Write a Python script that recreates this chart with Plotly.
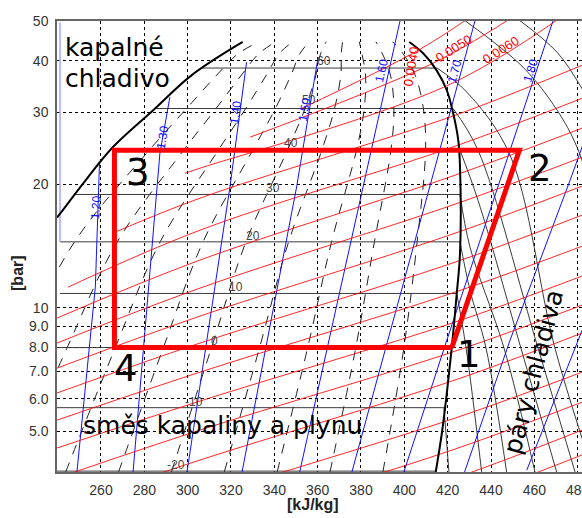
import math
import plotly.graph_objects as go

# ---------------- axes ----------------
H_RANGE = [239.7, 482.0]          # kJ/kg
P_RANGE = [3.98, 50.0]            # bar (log axis)
x_tick_vals = [260, 280, 300, 320, 340, 360, 380, 400, 420, 440, 460, 480]
y_tick_vals = [5, 6, 7, 8, 9, 10, 20, 30, 40, 50]
y_tick_text = ["5.0", "6.0", "7.0", "8.0", "9.0", "10", "20", "30", "40", "50"]

# ---------------- saturation curves ----------------
liq_h = [239.7, 241.4, 251.8, 264.9, 284.1, 301.9, 325.4]
liq_p = [16.6, 17.03, 20.1, 24.45, 30.3, 36.9, 44.45]
vap_h = [402.3, 408.8, 414.9, 419.6, 422.6, 424.9, 425.7, 425.7, 424.2, 421.9, 419.6, 417.3, 414.5]
vap_p = [44.45, 41.66, 37.9, 33.9, 29.7, 25.6, 22.05, 13.57, 10.84, 8.0, 6.19, 4.94, 3.98]

# ---------------- refrigeration cycle 1-2-3-4 ----------------
cyc_h = [421.9, 453.1, 266.2, 266.2, 421.9]
cyc_p = [8.0, 24.2, 24.2, 8.0, 8.0]
cyc_labels = ["1", "2", "3", "4"]
cyc_lab_h = [429.8, 462.6, 277.1, 271.5]
cyc_lab_p = [7.71, 21.83, 21.35, 7.11]

# ---------------- quality lines (dashed, two-phase) ----------------
q_p = [3.98, 8.0, 14.48, 24.2, 30.6, 36.9, 41.7, 44.5]
q_h01 = [194.9, 222.2, 247.8, 282.2, 299.5, 313.4, 323.5, 333.1]
q_h02 = [219.3, 244.4, 267.5, 298.1, 313.1, 324.8, 333.0, 340.8]
q_h03 = [243.7, 266.6, 287.3, 314.1, 326.8, 336.3, 342.4, 348.5]
q_h04 = [268.1, 288.8, 307.1, 330.0, 340.5, 347.7, 351.9, 356.2]
q_h05 = [292.5, 311.0, 326.9, 346.0, 354.2, 359.2, 361.4, 363.9]
q_h06 = [316.9, 333.2, 346.6, 361.9, 367.8, 370.7, 370.9, 371.5]
q_h07 = [341.3, 355.4, 366.4, 377.9, 381.5, 382.1, 380.4, 379.2]
q_h08 = [365.7, 377.6, 386.2, 393.8, 395.2, 393.6, 389.8, 386.9]
q_h09 = [390.1, 399.8, 405.9, 409.8, 408.8, 405.0, 399.3, 394.6]

# ---------------- isotherms ----------------
iso_t_labels = ["60", "50", "40", "30", "20", "10", "0", "-10", "-20"]
iso_t_p = [38.4, 30.6, 24.2, 18.89, 14.48, 10.84, 8.0, 5.71, 4.0]
iso_t_h_left = [306.6, 284.9, 266.2, 247.7, 241.1, 241.1, 239.7, 239.7, 239.7]
iso_t_h_right = [415.1, 422.5, 425.7, 425.7, 425.7, 424.3, 422.0, 418.3, 414.6]
iso_t_lab_h = [362.9, 356.0, 347.7, 339.4, 330.2, 322.3, 312.2, 302.9, 294.6]
iso_t_lab_p = [39.9, 32.05, 25.19, 19.57, 14.95, 11.23, 8.30, 5.89, 4.14]

# superheated parts of the isotherms
arc_h = [
    [418.3, 420.6],
    [424.2, 428.5, 435.7],
    [425.7, 430.3, 437.7, 447.2],
    [425.7, 430.3, 446.0, 460.3],
    [425.7, 434.0, 453.8, 470.3],
    [422.5, 434.0, 461.7, 478.8],
    [415.1, 428.9, 448.8, 469.5, 487.1],
    [427.1, 454.8, 470.5, 479.7, 490.3],
    [452.5, 470.5, 481.1, 490.3],
]
arc_p = [
    [5.71, 3.98],
    [10.84, 7.98, 3.98],
    [14.48, 11.04, 7.98, 3.98],
    [18.89, 14.06, 7.98, 3.98],
    [24.2, 18.29, 7.98, 3.98],
    [30.6, 24.22, 7.98, 3.98],
    [38.4, 33.52, 23.55, 7.98, 3.98],
    [50.5, 38.58, 30.31, 24.63, 16.35],
    [50.5, 41.96, 34.84, 28.64],
]

# ---------------- isentropes (blue) ----------------
s_h = [
    [248.9, 257.4, 259.3],
    [274.8, 287.2, 291.8],
    [299.7, 319.5, 327.2],
    [325.1, 350.3, 360.2],
    [351.7, 373.4, 398.0],
    [375.8, 398.0, 412.6, 432.6],
    [399.8, 419.6, 444.2, 468.6],
    [427.8, 448.8, 476.5, 485.7],
    [456.5, 482.0, 490.3],
]
s_p = [
    [3.98, 11.25, 22.4],
    [3.98, 23.82, 32.6],
    [3.98, 19.68, 39.7],
    [3.98, 19.71, 40.8],
    [3.98, 13.07, 50.0],
    [3.98, 10.74, 20.46, 50.0],
    [3.98, 8.34, 20.46, 50.0],
    [3.98, 8.34, 20.46, 27.9],
    [4.02, 8.83, 11.36],
]
s_labels = ["1.20", "1.30", "1.40", "1.50", "1.60", "1.70", "1.80"]
s_lab_h = [257.7, 288.6, 322.3, 354.2, 389.7, 423.4, 458.5]
s_lab_p = [17.59, 26.02, 29.95, 30.45, 37.9, 37.7, 37.9]
s_lab_angle = [-86, -80, -82, -80, -77, -74, -72]
edge_h = [241.1, 241.1]
edge_p = [49.6, 14.48]

# ---------------- isochores (red) ----------------
v_h = [
    [352.8, 407.2, 434.9],
    [328.8, 414.2, 453.4],
    [298.8, 305.7, 421.1, 482.0],
    [266.5, 305.7, 423.4, 482.0],
    [244.8, 305.7, 423.4, 482.0],
    [239.7, 305.7, 423.4, 482.0],
    [239.7, 305.7, 423.4, 482.0],
    [239.7, 305.7, 423.4, 482.0],
    [239.7, 305.7, 423.4, 482.0],
    [239.7, 305.7, 423.4, 482.0],
    [239.7, 305.7, 423.4, 482.0],
    [239.7, 305.7, 423.4, 482.0],
    [239.7, 305.7, 423.4, 482.0],
    [239.7, 305.7, 423.4, 482.0],
    [239.7, 305.7, 423.4, 482.0],
    [305.7, 423.4, 482.0],
    [305.7, 423.4, 482.0],
]
v_p = [
    [30.65, 42.66, 53.1],
    [26.05, 39.67, 52.5],
    [21.28, 21.89, 35.06, 55.5],
    [15.29, 18.50, 29.46, 39.0],
    [11.23, 15.46, 24.76, 32.41],
    [9.44, 13.07, 21.05, 27.40],
    [8.205, 11.17, 17.89, 23.28],
    [7.128, 9.546, 15.20, 19.79],
    [6.20, 8.205, 12.92, 16.82],
    [5.325, 6.97, 10.92, 14.13],
    [4.553, 5.925, 9.23, 11.95],
    [3.847, 5.035, 7.84, 10.15],
    [3.252, 4.256, 6.67, 8.68],
    [2.627, 3.439, 5.385, 6.97],
    [2.196, 2.874, 4.527, 5.89],
    [2.429, 3.847, 5.035],
    [2.088, 3.345, 4.378],
]
v_labels = ["0.0040", "0.0050", "0.0060"]
v_lab_h = [403.1, 422.7, 444.8]
v_lab_p = [38.77, 42.8, 42.55]
v_lab_angle = [-80, -32, -32]

# ---------------- region texts ----------------
region_texts = ["kapalné", "chladivo", "směs kapaliny a plynu"]
region_h = [242.5, 242.5, 250.8]
region_p = [43.15, 36.26, 5.18]
vapour_text = "páry chladiva"
vapour_h = 459.4
vapour_p = 6.97

fig = go.Figure()


def add_line(h, p, color, width, dash="solid", shape="linear"):
    fig.add_trace(go.Scatter(x=h, y=p, mode="lines",
                             line=dict(color=color, width=width, dash=dash, shape=shape),
                             hoverinfo="skip", showlegend=False))


def add_text(h, p, text, size, color, angle=0, family="Liberation Sans",
             xanchor="center", yanchor="middle"):
    fig.add_annotation(x=h, y=math.log10(p), xref="x", yref="y", text=text,
                       showarrow=False, textangle=angle, xanchor=xanchor, yanchor=yanchor,
                       font=dict(size=size, color=color, family=family))


# quality lines
for qh in [q_h01, q_h02, q_h03, q_h04, q_h05, q_h06, q_h07, q_h08, q_h09]:
    add_line(qh, q_p, "#222222", 1, dash="10px,9px", shape="spline")

# isotherms
for hl, hr, p in zip(iso_t_h_left, iso_t_h_right, iso_t_p):
    add_line([hl, hr], [p, p], "#3a3a3a", 1)
for ah, ap in zip(arc_h, arc_p):
    add_line(ah, ap, "#3a3a3a", 1, shape="spline")

# isentropes
add_line(edge_h, edge_p, "#9fa8ff", 1.5)
for sh, sp in zip(s_h, s_p):
    add_line(sh, sp, "#1010ff", 1)

# isochores
for vh, vp in zip(v_h, v_p):
    add_line(vh, vp, "rgba(255,0,0,0.85)", 1, shape="spline")

# saturation curves
add_line(liq_h, liq_p, "black", 2, shape="spline")
add_line(vap_h, vap_p, "black", 2, shape="spline")

# cycle
add_line(cyc_h, cyc_p, "#ff0000", 5)

# labels
for t, h, p in zip(iso_t_labels, iso_t_lab_h, iso_t_lab_p):
    add_text(h, p, t, 12, "#444444")
for t, h, p, a in zip(s_labels, s_lab_h, s_lab_p, s_lab_angle):
    add_text(h, p, t, 12, "#1010ff", angle=a)
for t, h, p, a in zip(v_labels, v_lab_h, v_lab_p, v_lab_angle):
    add_text(h, p, t, 13, "#ff0000", angle=a)
for t, h, p in zip(cyc_labels, cyc_lab_h, cyc_lab_p):
    add_text(h, p, t, 37, "black", family="DejaVu Sans")
for t, h, p in zip(region_texts, region_h, region_p):
    add_text(h, p, t, 25, "black", family="DejaVu Sans", xanchor="left")
add_text(vapour_h, vapour_p, vapour_text, 25, "black", angle=-75, family="DejaVu Sans")

fig.add_annotation(x=-0.0743, y=0.4413, xref="paper", yref="paper", text="<b>[bar]</b>",
                   showarrow=False, textangle=-90, xanchor="center", yanchor="middle",
                   font=dict(size=16, color="#222222", family="Liberation Sans"))
fig.add_annotation(x=0.4876, y=-0.0724, xref="paper", yref="paper", text="<b>[kJ/kg]</b>",
                   showarrow=False, xanchor="center", yanchor="middle",
                   font=dict(size=16, color="#222222", family="Liberation Sans"))

axis_common = dict(showgrid=True, gridcolor="black", gridwidth=1, griddash="3px,3px",
                   zeroline=False, showline=True, linecolor="#666666", linewidth=1.5,
                   ticks="outside", tickcolor="rgba(0,0,0,0)", ticklabeloverflow="allow",
                   automargin=False,
                   tickfont=dict(size=14, color="#333333", family="Liberation Sans"))

fig.update_layout(
    width=582, height=518,
    margin=dict(l=57, r=0, t=21, b=46, autoexpand=False),
    paper_bgcolor="white", plot_bgcolor="white",
    showlegend=False,
    xaxis=dict(range=H_RANGE, tickvals=x_tick_vals, ticklen=4, mirror=True, **axis_common),
    yaxis=dict(type="log", range=[math.log10(P_RANGE[0]), math.log10(P_RANGE[1])],
               tickvals=y_tick_vals, ticktext=y_tick_text, ticklen=4, mirror=False,
               **axis_common),
)

fig.write_html("out.html", config={"displayModeBar": False},
               post_script="document.body.style.margin='0';document.body.style.overflow='hidden';")
